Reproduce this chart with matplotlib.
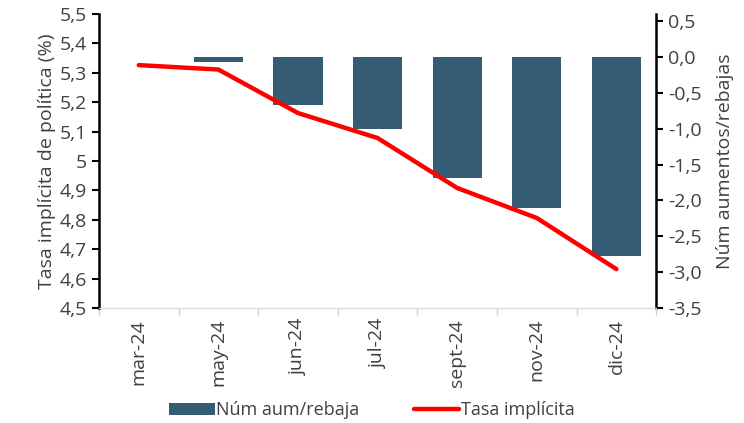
import matplotlib
matplotlib.use("Agg")
import matplotlib.pyplot as plt
import numpy as np
from matplotlib.ticker import FuncFormatter

plt.rcParams['font.family'] = ['Open Sans', 'DejaVu Sans']

# datos
meses = ["mar-24", "may-24", "jun-24", "jul-24", "sept-24", "nov-24", "dic-24"]
num_aum_rebaja = [0.0, -0.07, -0.67, -1.0, -1.69, -2.1, -2.77]
tasa_implicita = [5.326, 5.311, 5.163, 5.078, 4.908, 4.806, 4.632]

TXT = '#404040'
BAR = '#355c75'

fig = plt.figure(figsize=(7.44, 4.23), dpi=100)
ax = fig.add_axes([0.133, 0.272, 0.749, 0.695])
ax2 = ax.twinx()

x = np.arange(len(meses))

# barras en eje derecho
ax2.bar(x, num_aum_rebaja, width=0.62, color=BAR, label="Núm aum/rebaja")
ax2.set_ylim(-3.5, 0.6)
ax2.set_yticks(np.arange(-3.5, 0.51, 0.5))
ax2.yaxis.set_major_formatter(FuncFormatter(lambda v, p: f"{v:.1f}".replace('.', ',').replace('-0,0', '0,0')))
ax2.set_ylabel("Núm aumentos/rebajas", color=TXT, fontsize=14, labelpad=10)

# linea en eje izquierdo
ax.plot(x, tasa_implicita, color='#ff0000', linewidth=3.2, label="Tasa implícita", solid_capstyle='round')
ax.set_ylim(4.5, 5.5)
ax.set_yticks(np.arange(4.5, 5.51, 0.1))
ax.yaxis.set_major_formatter(FuncFormatter(lambda v, p: f"{v:.1f}".replace('.', ',').replace(',0', '')))
ax.set_ylabel("Tasa implícita de política (%)", color=TXT, fontsize=14, labelpad=3)

# linea encima de las barras
ax.set_zorder(ax2.get_zorder() + 1)
ax.patch.set_visible(False)

ax.set_xlim(-0.5, len(meses) - 0.5)
ax.set_xticks(x)
ax.set_xticklabels(meses, rotation=90, color=TXT, fontsize=14)
ax.set_xticks(np.arange(-0.5, len(meses), 1), minor=True)
ax.tick_params(axis='x', which='major', length=0, pad=8)
ax.tick_params(axis='x', which='minor', length=5, color='#d0d0d0', width=1)

for a in (ax, ax2):
    a.spines['top'].set_visible(False)
    a.spines['bottom'].set_color('#d9d9d9')
    a.spines['left'].set_linewidth(1.8)
    a.spines['right'].set_linewidth(1.8)
ax.spines['right'].set_visible(False)
ax2.spines['left'].set_visible(False)
ax.tick_params(axis='y', length=5, width=1.5, labelsize=14, labelcolor=TXT)
ax2.tick_params(axis='y', length=5, width=1.5, labelsize=14, labelcolor=TXT)

h1, l1 = ax2.get_legend_handles_labels()
h2, l2 = ax.get_legend_handles_labels()
fig.legend(h1 + h2, l1 + l2, loc='center', bbox_to_anchor=(0.5, 0.03), ncol=2,
           frameon=False, fontsize=13, labelcolor=TXT, handlelength=2.5,
           handletextpad=0.1, columnspacing=3)

fig.savefig("out.png", dpi=100)
